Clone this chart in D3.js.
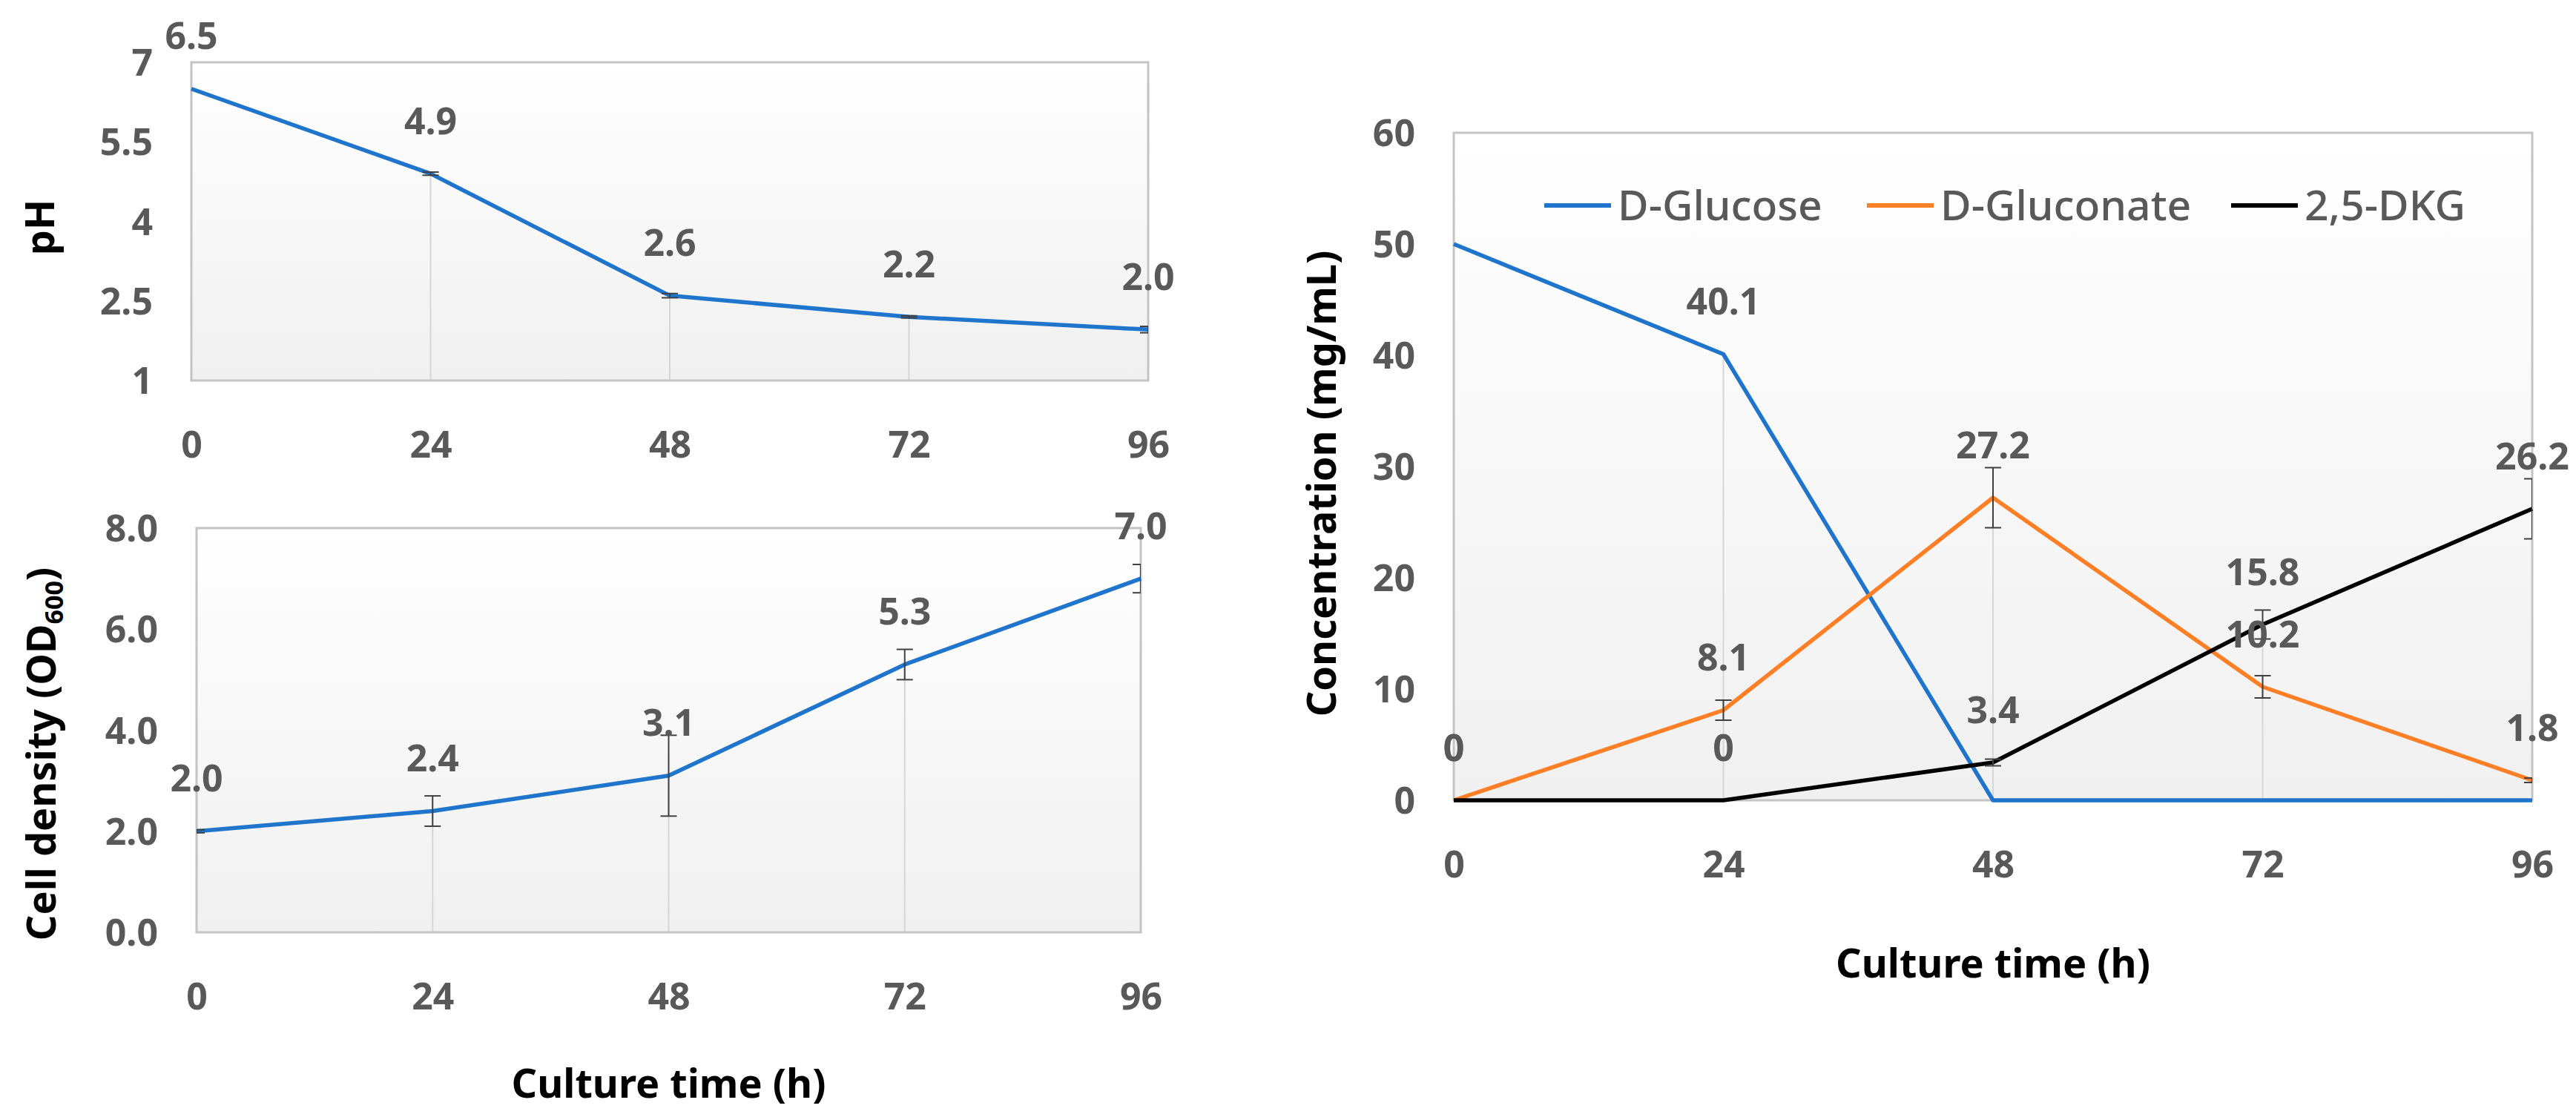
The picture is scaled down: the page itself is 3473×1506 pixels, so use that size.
<!DOCTYPE html>
<html><head><meta charset="utf-8">
<script src="https://cdn.jsdelivr.net/npm/d3@7"></script>
<style>
body{margin:0;background:#fff}
text{font-family:"Noto Sans","DejaVu Sans",sans-serif}
</style>
</head><body>
<svg id="chart" width="3473" height="1506"></svg>
<script>
// ---------- data ----------
const times = [0, 24, 48, 72, 96];
const timeTicks = [0, 24, 48, 72, 96];

const phValues = [6.5, 4.9, 2.6, 2.2, 1.96];
const phErrors = [0, 0.03, 0.04, 0.02, 0.06];
const phTicks = [1, 2.5, 4, 5.5, 7];

const odValues = [2.0, 2.4, 3.1, 5.3, 7.0];
const odErrors = [0.03, 0.3, 0.8, 0.3, 0.28];
const odTicks = [0, 2, 4, 6, 8];

const glucoseValues = [50, 40.1, 0, 0, 0];
const glucoseErrors = [0, 0, 0, 0, 0];
const glucoseLabelShown = [false, true, false, false, false];
const gluconateValues = [0, 8.1, 27.2, 10.2, 1.8];
const gluconateErrors = [0, 0.9, 2.7, 1.0, 0.2];
const dkgValues = [0, 0, 3.4, 15.8, 26.2];
const dkgErrors = [0, 0, 0.3, 1.3, 2.7];
const concTicks = [0, 10, 20, 30, 40, 50, 60];

const seriesNames = ["D-Glucose", "D-Gluconate", "2,5-DKG"];
const seriesColors = ["#1f74cc", "#ff7f27", "#000000"];

// ---------- drawing ----------
const svg = d3.select("#chart");
const defs = svg.append("defs");
const grad = defs.append("linearGradient").attr("id", "bg").attr("x1", 0).attr("y1", 0).attr("x2", 0).attr("y2", 1);
grad.append("stop").attr("offset", "0%").attr("stop-color", "#ffffff");
grad.append("stop").attr("offset", "100%").attr("stop-color", "#f0f0f0");

const GRAY = "#595959";
const FS = 50;
let clipId = 0;

function panel(cfg) {
  const g = svg.append("g");
  const x = d3.scaleLinear().domain([0, 96]).range([cfg.x0, cfg.x1]);
  const y = d3.scaleLinear().domain(cfg.domain).range([cfg.y1, cfg.y0]);

  g.append("rect").attr("x", cfg.x0).attr("y", cfg.y0)
    .attr("width", cfg.x1 - cfg.x0).attr("height", cfg.y1 - cfg.y0)
    .attr("fill", "url(#bg)");

  // drop lines from the highest point at each time to the axis
  times.forEach((t, i) => {
    const top = d3.max(cfg.series, s => s.values[i]);
    g.append("line").attr("x1", x(t)).attr("x2", x(t))
      .attr("y1", y(top)).attr("y2", cfg.y1)
      .attr("stroke", "#d6d6d6").attr("stroke-width", 2);
  });

  g.append("rect").attr("x", cfg.x0).attr("y", cfg.y0)
    .attr("width", cfg.x1 - cfg.x0).attr("height", cfg.y1 - cfg.y0)
    .attr("fill", "none").attr("stroke", "#c4c4c4").attr("stroke-width", 3);

  // y axis
  const ya = d3.axisLeft(y).tickValues(cfg.ticks).tickSize(0).tickPadding(0).tickFormat(cfg.tickFmt);
  const yg = g.append("g").attr("transform", `translate(${cfg.x0 - 52},0)`).call(ya);
  yg.select(".domain").remove();
  yg.selectAll("text").attr("font-size", FS).attr("font-weight", 700).attr("fill", GRAY)
    .attr("font-family", '"Noto Sans",sans-serif').attr("dy", "0.35em");

  // x axis
  const xa = d3.axisBottom(x).tickValues(timeTicks).tickSize(0).tickPadding(0).tickFormat(d3.format("d"));
  const xg = g.append("g").attr("transform", `translate(0,${cfg.y1 + 86})`).call(xa);
  xg.select(".domain").remove();
  xg.selectAll("text").attr("font-size", FS).attr("font-weight", 700).attr("fill", GRAY)
    .attr("font-family", '"Noto Sans",sans-serif').attr("dy", "0.35em");

  // clip for error bars (horizontal only)
  const cid = "clip" + (clipId++);
  defs.append("clipPath").attr("id", cid).append("rect")
    .attr("x", cfg.x0).attr("y", 0).attr("width", cfg.x1 - cfg.x0).attr("height", 1506);

  const line = d3.line().x((d, i) => x(times[i])).y(d => y(d));
  cfg.series.forEach(s => {
    g.append("path").datum(s.values).attr("d", line)
      .attr("fill", "none").attr("stroke", s.color).attr("stroke-width", 5.5)
      .attr("stroke-linejoin", "round");
  });
  cfg.series.forEach(s => {
    const eg = g.append("g").attr("clip-path", `url(#${cid})`).attr("stroke", "#404040").attr("stroke-width", 2);
    s.values.forEach((v, i) => {
      const e = s.errors[i];
      if (!e) return;
      const cx = x(times[i]);
      eg.append("line").attr("x1", cx).attr("x2", cx).attr("y1", y(v - e)).attr("y2", y(v + e));
      eg.append("line").attr("x1", cx - 11).attr("x2", cx + 11).attr("y1", y(v - e)).attr("y2", y(v - e));
      eg.append("line").attr("x1", cx - 11).attr("x2", cx + 11).attr("y1", y(v + e)).attr("y2", y(v + e));
    });
  });
  cfg.series.forEach(s => {
    s.values.forEach((v, i) => {
      if (s.show && !s.show[i]) return;
      g.append("text").attr("x", x(times[i])).attr("y", y(v) - 71)
        .attr("dy", "0.35em").attr("text-anchor", "middle")
        .attr("font-size", FS).attr("font-weight", 700).attr("fill", GRAY)
        .text(s.fmt(v));
    });
  });

  // titles
  const yt = g.append("text")
    .attr("transform", `translate(${cfg.ytx},${(cfg.y0 + cfg.y1) / 2 + (cfg.ytdy || 0)}) rotate(-90)`)
    .attr("text-anchor", "middle").attr("dy", "0.35em")
    .attr("font-size", 54).attr("font-weight", 700).attr("fill", "#000");
  cfg.ytitle(yt);

  if (cfg.xtitle) {
    g.append("text").attr("x", (cfg.x0 + cfg.x1) / 2).attr("y", cfg.xty)
      .attr("text-anchor", "middle").attr("dy", "0.35em")
      .attr("font-size", 54).attr("font-weight", 700).attr("fill", "#000")
      .text("Culture time (h)");
  }
  return { x, y, g };
}

const f1 = d3.format(".1f");
const fConc = v => v === 0 ? "0" : d3.format(".1f")(v);

// pH panel
panel({
  x0: 258, x1: 1548, y0: 84, y1: 513, domain: [1, 7], ticks: phTicks,
  tickFmt: d => String(d),
  series: [{ values: phValues, errors: phErrors, color: seriesColors[0], fmt: f1 }],
  ytx: 54, ytdy: 8, ytitle: t => t.text("pH")
});

// cell density panel
panel({
  x0: 265, x1: 1538, y0: 712, y1: 1257, domain: [0, 8], ticks: odTicks,
  tickFmt: d3.format(".1f"),
  series: [{ values: odValues, errors: odErrors, color: seriesColors[0], fmt: f1 }],
  ytx: 56, ytdy: 32, ytitle: t => {
    t.append("tspan").text("Cell density (OD");
    t.append("tspan").attr("font-size", 34).attr("dy", 10).text("600");
    t.append("tspan").attr("dy", -10).text(")");
  },
  xtitle: true, xty: 1461
});

// concentration panel
panel({
  x0: 1960, x1: 3414, y0: 179, y1: 1079, domain: [0, 60], ticks: concTicks,
  tickFmt: d3.format("d"),
  series: [
    { values: glucoseValues, errors: glucoseErrors, color: seriesColors[0], fmt: fConc, show: glucoseLabelShown },
    { values: gluconateValues, errors: gluconateErrors, color: seriesColors[1], fmt: fConc },
    { values: dkgValues, errors: dkgErrors, color: seriesColors[2], fmt: fConc }
  ],
  ytx: 1782, ytdy: 23, ytitle: t => t.text("Concentration (mg/mL)"),
  xtitle: true, xty: 1299
});

// legend
const legendX = [2082, 2517, 3008];
const ly = 277;
seriesNames.forEach((name, i) => {
  const lg = svg.append("g");
  lg.append("line").attr("x1", legendX[i]).attr("x2", legendX[i] + 90).attr("y1", ly).attr("y2", ly)
    .attr("stroke", seriesColors[i]).attr("stroke-width", 6);
  lg.append("text").attr("x", legendX[i] + 99).attr("y", ly).attr("dy", "0.35em")
    .attr("font-size", 57).attr("font-weight", 500).attr("fill", GRAY).text(name);
});
</script>
</body></html>
